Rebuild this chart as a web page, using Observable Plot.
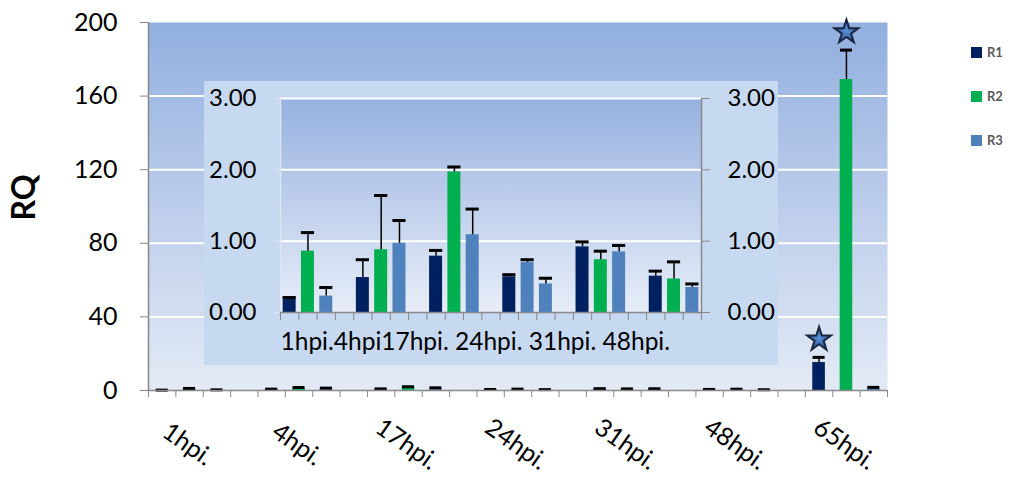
<!DOCTYPE html>
<html><head><meta charset="utf-8">
<script src="https://cdn.jsdelivr.net/npm/d3@7"></script>
<script src="https://cdn.jsdelivr.net/npm/@observablehq/plot@0.6"></script>
<style>
body{margin:0;background:#fff;font-family:Lato,sans-serif;}
#wrap{position:relative;width:1013px;height:480px;overflow:hidden;}
#inset{position:absolute;left:204px;top:81px;width:574px;height:284px;}
#legend{position:absolute;left:971px;top:30px;font-family:Lato,sans-serif;font-size:13px;color:#595959;font-weight:bold;}
#legend .row{display:flex;align-items:center;height:44px;}
#legend .sw{width:11px;height:11px;margin-right:5px;}
</style></head><body><div id="wrap"><div id="inset"></div><div id="legend"></div></div>
<script>
// ---- data ----
const groups = ["1hpi.", "4hpi.", "17hpi.", "24hpi.", "31hpi.", "48hpi.", "65hpi."];
const series = ["R1", "R2", "R3"];
const seriesColors = ["#002060", "#00b050", "#4f81bd"];
const r1Values = [0.20, 0.49, 0.79, 0.50, 0.92, 0.51, 15.2];
const r1Errors = [0.01, 0.25, 0.08, 0.03, 0.07, 0.07, 2.8];
const r2Values = [0.86, 0.88, 1.97, 0.70, 0.74, 0.47, 169];
const r2Errors = [0.26, 0.76, 0.07, 0.04, 0.12, 0.24, 16];
const r3Values = [0.23, 0.97, 1.09, 0.40, 0.85, 0.35, 1.2];
const r3Errors = [0.12, 0.32, 0.36, 0.08, 0.09, 0.05, 0.5];
const starred = [["65hpi.", "R1"], ["65hpi.", "R2"]];
const recolored = [["24hpi.", "R2", "R3"]]; // bar drawn in another series' colour in the original
const mainTicks = [0, 40, 80, 120, 160, 200];
const insetTicks = [0, 1, 2, 3];
const insetGroups = ["1hpi.", "4hpi.", "17hpi.", "24hpi.", "31hpi.", "48hpi."];
const insetTickText = ["1hpi.", "4hpi", "17hpi. ", "24hpi. ", "31hpi. ", "48hpi."];

// ---- table ----
const valuesBy = [r1Values, r2Values, r3Values];
const errorsBy = [r1Errors, r2Errors, r3Errors];
const rows = [];
groups.forEach((g, gi) => series.forEach((s, si) => {
  const rc = recolored.find(r => r[0] === g && r[1] === s);
  rows.push({group: g, gi, series: s, shown: rc ? rc[2] : s, slot: gi * 4 + si,
    value: valuesBy[si][gi], err: errorsBy[si][gi],
    star: starred.some(t => t[0] === g && t[1] === s)});
}));
const insetRows = rows.filter(d => insetGroups.includes(d.group));
const nSlots = groups.length * 4 - 1;
const nInsetSlots = insetGroups.length * 4 - 1;

const gray = "#898989";
const ns = "http://www.w3.org/2000/svg";
function gradient(id, stops) {
  return () => {
    const defs = document.createElementNS(ns, "defs");
    const lg = document.createElementNS(ns, id.startsWith("r") ? "radialGradient" : "linearGradient");
    lg.setAttribute("id", id);
    if (!id.startsWith("r")) {
      lg.setAttribute("x1", "0"); lg.setAttribute("y1", "0");
      lg.setAttribute("x2", "0"); lg.setAttribute("y2", "1");
    }
    stops.forEach(([o, c]) => {
      const st = document.createElementNS(ns, "stop");
      st.setAttribute("offset", o); st.setAttribute("stop-color", c);
      lg.appendChild(st);
    });
    defs.appendChild(lg);
    return defs;
  };
}
const color = {domain: series, range: seriesColors};

// ---- main chart ----
const mh = 0.23, mc = 0.22;
const main = Plot.plot({
  width: 1013, height: 480,
  marginLeft: 148, marginRight: 126, marginTop: 22, marginBottom: 90,
  style: {fontFamily: "Lato, sans-serif", background: "transparent", color: "#000", overflow: "visible"},
  x: {domain: [0, nSlots], axis: null},
  y: {domain: [0, 200], axis: null},
  color,
  marks: [
    gradient("gMain", [[0, "#92afdf"], [0.5, "#bccdeb"], [1, "#e3eaf5"]]),
    gradient("rStar", [[0, "#5b8fd6"], [0.6, "#3f6fb6"], [1, "#2a4a80"]]),
    Plot.frame({fill: "url(#gMain)", stroke: "none"}),
    Plot.gridY(mainTicks.slice(1, -1), {stroke: "#fff", strokeOpacity: 1, strokeWidth: 2}),
    Plot.rectY(rows, {x1: d => d.slot + 0.5 - mh, x2: d => d.slot + 0.5 + mh, y1: 0, y2: "value", fill: "shown"}),
    Plot.ruleX(rows, {x: d => d.slot + 0.5, y1: "value", y2: d => d.value + d.err, stroke: "#000", strokeWidth: 1.5}),
    Plot.ruleY(rows, {y: d => d.value + d.err, x1: d => d.slot + 0.5 - mc, x2: d => d.slot + 0.5 + mc, stroke: "#000", strokeWidth: 3}),
    Plot.dot(rows.filter(d => d.star), {x: d => d.slot + 0.5, y: d => d.value + d.err, dy: -18, symbol: "star", r: 7.5, fill: "url(#rStar)", stroke: "#1b2740", strokeWidth: 2}),
    Plot.axisY({ticks: mainTicks, tickSize: 8, tickPadding: 23, fontSize: 25, stroke: gray, label: null}),
    Plot.ruleX([0], {stroke: gray, strokeWidth: 1.5}),
    Plot.axisX({ticks: d3.range(nSlots + 1), tickFormat: () => "", tickSize: 7, stroke: gray, label: null}),
    Plot.ruleY([0], {stroke: gray, strokeWidth: 1.5}),
    Plot.text(groups, {x: (d, i) => i * 4 + 1.5, y: 0, text: d => d, rotate: 35, dx: -2, dy: 54, fontSize: 25, fill: "#000"}),
    Plot.text(["RQ"], {frameAnchor: "left", dx: -124, dy: 14, rotate: -90, fontSize: 32, fontWeight: "bold", fill: "#000"})
  ]
});
document.getElementById("wrap").prepend(main);

// ---- inset chart ----
const ih = 0.355, ic = 0.36;
const inset = Plot.plot({
  width: 574, height: 284,
  marginLeft: 76, marginRight: 77, marginTop: 17, marginBottom: 53,
  style: {fontFamily: "Lato, sans-serif", background: "#c6d9f1", color: "#000", overflow: "visible"},
  x: {domain: [0, nInsetSlots], axis: null},
  y: {domain: [0, 3], axis: null},
  color,
  marks: [
    gradient("gInset", [[0, "#97b2e0"], [0.5, "#c0d0ec"], [1, "#e7edf8"]]),
    Plot.frame({fill: "url(#gInset)", stroke: "none"}),
    Plot.gridY(insetTicks.slice(1), {stroke: "#fff", strokeOpacity: 1, strokeWidth: 2}),
    Plot.ruleX([0], {stroke: "#dde6f4", strokeWidth: 1.5}),
    Plot.axisY({anchor: "left", ticks: insetTicks, tickFormat: ".2f", tickSize: 6, tickPadding: 18, fontSize: 24, stroke: "#dde6f4", label: null}),
    Plot.rectY(insetRows, {x1: d => d.slot + 0.5 - ih, x2: d => d.slot + 0.5 + ih, y1: 0, y2: "value", fill: "shown"}),
    Plot.ruleX(insetRows, {x: d => d.slot + 0.5, y1: "value", y2: d => d.value + d.err, stroke: "#000", strokeWidth: 1.5}),
    Plot.ruleY(insetRows, {y: d => d.value + d.err, x1: d => d.slot + 0.5 - ic, x2: d => d.slot + 0.5 + ic, stroke: "#000", strokeWidth: 3}),
    Plot.axisY({anchor: "right", ticks: insetTicks, tickFormat: ".2f", tickSize: 8, tickPadding: 18, fontSize: 24, stroke: gray, label: null}),
    Plot.ruleX([nInsetSlots], {stroke: gray, strokeWidth: 1.5}),
    Plot.axisX({ticks: d3.range(nInsetSlots + 1), tickFormat: () => "", tickSize: 8, stroke: gray, label: null}),
    Plot.ruleY([0], {stroke: gray, strokeWidth: 1.5}),
    Plot.text([insetTickText.join("")], {frameAnchor: "bottom-left", dx: 0, dy: 37, textAnchor: "start", fontSize: 24.5, fill: "#000"})
  ]
});
document.getElementById("inset").appendChild(inset);

// ---- legend ----
const legend = document.getElementById("legend");
series.forEach((s, i) => {
  const row = document.createElement("div");
  row.className = "row";
  const sw = document.createElement("span");
  sw.className = "sw"; sw.style.background = seriesColors[i];
  const t = document.createElement("span");
  t.textContent = s;
  row.append(sw, t);
  legend.appendChild(row);
});
</script></body></html>
